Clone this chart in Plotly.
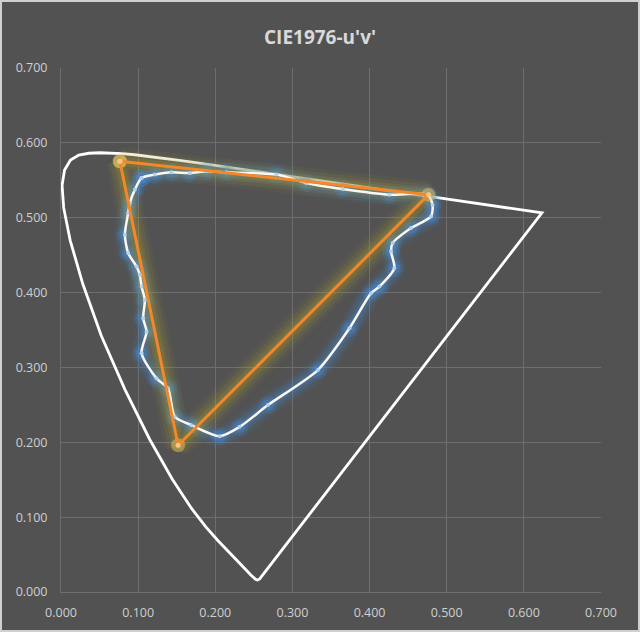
import plotly.graph_objects as go

# CIE 1976 u'v' spectral locus (380 nm -> 700 nm), closed by the purple line
locus_u = [0.2568, 0.2564, 0.2557, 0.2545, 0.2522, 0.2461, 0.2347, 0.2161, 0.2033, 0.1877,
           0.1690, 0.1441, 0.1147, 0.0828, 0.0521, 0.0282, 0.0119, 0.0035, 0.0014, 0.0046,
           0.0123, 0.0231, 0.0360, 0.0501, 0.0643, 0.0792, 0.0953, 0.1127, 0.1319, 0.1531,
           0.1766, 0.2026, 0.2312, 0.2623, 0.2960, 0.3315, 0.3681, 0.4035, 0.4379, 0.4692,
           0.4968, 0.5203, 0.5399, 0.5565, 0.5830, 0.6005, 0.6109, 0.6199, 0.6234, 0.2568]
locus_v = [0.0166, 0.0163, 0.0159, 0.0159, 0.0169, 0.0226, 0.0350, 0.0549, 0.0688, 0.0871,
           0.1119, 0.1510, 0.2044, 0.2708, 0.3427, 0.4117, 0.4698, 0.5131, 0.5432, 0.5638,
           0.5770, 0.5837, 0.5861, 0.5868, 0.5865, 0.5856, 0.5841, 0.5821, 0.5796, 0.5766,
           0.5732, 0.5694, 0.5651, 0.5604, 0.5554, 0.5501, 0.5446, 0.5393, 0.5342, 0.5296,
           0.5254, 0.5219, 0.5190, 0.5165, 0.5125, 0.5099, 0.5084, 0.5070, 0.5065, 0.0166]

# Measured gamut boundary
gamut_u = [0.1044, 0.1216, 0.1432, 0.1669, 0.1885, 0.2144, 0.2790, 0.3179, 0.3652, 0.4256,
           0.4752, 0.4816, 0.4796, 0.4537, 0.4299, 0.4278, 0.4321, 0.4127, 0.4019, 0.3739,
           0.3329, 0.2682, 0.2316, 0.2057, 0.1691, 0.1475, 0.1388, 0.1238, 0.1044, 0.1109,
           0.1065, 0.1087, 0.1044, 0.1022, 0.0979, 0.0871, 0.0828, 0.0871, 0.0893, 0.0957,
           0.1044]
gamut_v = [0.5531, 0.5576, 0.5606, 0.5598, 0.5620, 0.5606, 0.5576, 0.5465, 0.5384, 0.5308,
           0.5308, 0.5174, 0.5017, 0.4862, 0.4661, 0.4549, 0.4327, 0.4080, 0.3992, 0.3523,
           0.2965, 0.2497, 0.2206, 0.2082, 0.2229, 0.2340, 0.2720, 0.2854, 0.3189, 0.3478,
           0.3657, 0.3902, 0.4080, 0.4237, 0.4348, 0.4527, 0.4772, 0.5063, 0.5197, 0.5375,
           0.5531]

# NTSC primaries triangle (G, R, B, G)
ntsc_u = [0.0763, 0.4765, 0.1518, 0.0763]
ntsc_v = [0.5754, 0.5308, 0.1961, 0.5754]

ticks = [0.0, 0.1, 0.2, 0.3, 0.4, 0.5, 0.6, 0.7]

BG = "#525252"
GRID = "#6e6e6e"
TXT = "#cfcfcf"

fig = go.Figure()

# spectral locus
fig.add_trace(go.Scatter(x=locus_u, y=locus_v, mode="lines",
                         line=dict(color="#ffffff", width=2.8), hoverinfo="skip"))

SPL = dict(shape="spline", smoothing=0.7)

# gamut glow
for w, a in [(24, 0.06), (18, 0.09), (13, 0.13), (8, 0.2)]:
    fig.add_trace(go.Scatter(x=gamut_u, y=gamut_v, mode="lines",
                             line=dict(color=f"rgba(70,140,215,{a})", width=w, **SPL),
                             hoverinfo="skip"))
for s, a in [(18, 0.18), (12, 0.3)]:
    fig.add_trace(go.Scatter(x=gamut_u, y=gamut_v, mode="markers",
                             marker=dict(color=f"rgba(70,140,215,{a})", size=s, line=dict(width=0)),
                             hoverinfo="skip"))

# triangle glow
for w, a in [(28, 0.07), (21, 0.1), (14, 0.13), (9, 0.16)]:
    fig.add_trace(go.Scatter(x=ntsc_u, y=ntsc_v, mode="lines",
                             line=dict(color=f"rgba(175,160,45,{a})", width=w), hoverinfo="skip"))

# gamut line
fig.add_trace(go.Scatter(x=gamut_u, y=gamut_v, mode="lines+markers",
                         line=dict(color="#fbf7ee", width=2.5, **SPL),
                         marker=dict(color="#b4d2ec", size=4, line=dict(width=0)), hoverinfo="skip"))

# triangle line
fig.add_trace(go.Scatter(x=ntsc_u, y=ntsc_v, mode="markers",
                         marker=dict(color="rgba(240,200,90,0.45)", size=14, line=dict(width=0)),
                         hoverinfo="skip"))
fig.add_trace(go.Scatter(x=ntsc_u, y=ntsc_v, mode="lines+markers",
                         line=dict(color="#f2872c", width=3),
                         marker=dict(color="#f8c58a", size=5, line=dict(width=0)),
                         hoverinfo="skip"))

L, R, T, B = 61, 39, 68, 40
W, H = 640, 632
pw, ph = W - L - R, H - T - B

fig.update_layout(
    width=W, height=H,
    margin=dict(l=L, r=R, t=T, b=B),
    paper_bgcolor=BG, plot_bgcolor=BG,
    showlegend=False,
    title=dict(text="<b>CIE1976-u'v'</b>", x=0.5, xanchor="center", y=1 - 37 / H, yanchor="middle",
               font=dict(family="Open Sans", size=19, color="#d9d9d9")),
    font=dict(family="Open Sans", size=12, color=TXT),
    xaxis=dict(range=[0, 0.7], tickvals=ticks, tickformat=".3f", showgrid=True, gridcolor=GRID,
               gridwidth=1, zeroline=False, showline=True, linecolor=GRID,
               ticks="outside", ticklen=9, tickcolor=BG, tickfont=dict(size=12.5, color=TXT)),
    yaxis=dict(range=[0, 0.7], tickvals=ticks, tickformat=".3f", showgrid=True, gridcolor=GRID,
               gridwidth=1, zeroline=False, showline=True, linecolor=GRID,
               ticks="outside", ticklen=10, tickcolor=BG, tickfont=dict(size=12.5, color=TXT)),
    shapes=[dict(type="rect", xref="paper", yref="paper",
                 x0=(1 - L) / pw, x1=(W - 1 - L) / pw,
                 y0=-(B - 1) / ph, y1=1 + (T - 1) / ph,
                 line=dict(color="#d0d0d0", width=2), fillcolor="rgba(0,0,0,0)", layer="above")],
)

fig.write_html("out.html")
